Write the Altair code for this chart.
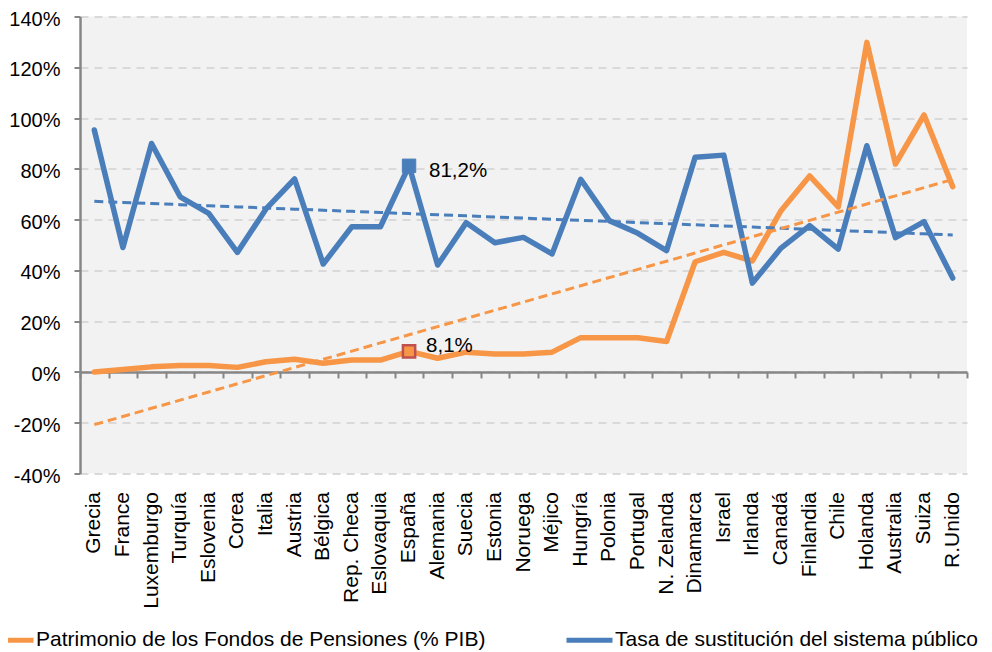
import altair as alt
import pandas as pd
import numpy as np

countries = ["Grecia", "France", "Luxemburgo", "Turquía", "Eslovenia", "Corea", "Italia",
             "Austria", "Bélgica", "Rep. Checa", "Eslovaquia", "España", "Alemania", "Suecia",
             "Estonia", "Noruega", "Méjico", "Hungría", "Polonia", "Portugal", "N. Zelanda",
             "Dinamarca", "Israel", "Irlanda", "Canadá", "Finlandia", "Chile", "Holanda",
             "Australia", "Suiza", "R.Unido"]

fondos = [0.0, 1.0, 2.0, 2.5, 2.5, 1.8, 4.0, 5.0, 3.4, 4.7, 4.7, 8.1, 5.4, 7.8, 7.1, 7.1,
          7.8, 13.5, 13.5, 13.5, 12.0, 43.4, 47.1, 43.7, 63.5, 77.2, 65.0, 129.8, 81.9,
          101.2, 73.0]

tasa = [95.3, 49.0, 90.0, 69.0, 62.5, 47.1, 64.2, 76.0, 42.5, 57.2, 57.2, 81.2, 42.1, 58.8,
        50.9, 53.0, 46.5, 75.9, 59.6, 54.6, 47.8, 84.6, 85.4, 35.0, 48.8, 57.6, 48.4, 89.1,
        52.9, 59.2, 37.0]

S1 = "Patrimonio de los Fondos de Pensiones (% PIB)"
S2 = "Tasa de sustitución del sistema público"
highlight = "España"

ORANGE = "#F79646"
BLUE = "#4A7EBB"
GRAY = "#868686"
FONT = "Liberation Sans"

W, H = 887, 457
YMIN, YMAX = -40, 140

idx = np.arange(len(countries))
trend_f = np.polyval(np.polyfit(idx, fondos, 1), idx)
trend_t = np.polyval(np.polyfit(idx, tasa, 1), idx)

df = pd.DataFrame(
    [{"country": c, "series": S1, "value": v} for c, v in zip(countries, fondos)]
    + [{"country": c, "series": S2, "value": v} for c, v in zip(countries, tasa)]
)
df_tf = pd.DataFrame({"country": countries, "value": trend_f})
df_tt = pd.DataFrame({"country": countries, "value": trend_t})

hi = countries.index(highlight)
df_mb = pd.DataFrame({"country": [highlight], "value": [tasa[hi]],
                      "label": [f"{tasa[hi]:.1f}".replace(".", ",") + "%"]})
df_mo = pd.DataFrame({"country": [highlight], "value": [fondos[hi]],
                      "label": [f"{fondos[hi]:.1f}".replace(".", ",") + "%"]})

xscale = alt.Scale(type="band", domain=countries, paddingInner=0, paddingOuter=0)
yscale = alt.Scale(domain=[YMIN, YMAX], nice=False, zero=False)

x_label_axis = alt.Axis(orient="bottom", labelAngle=270, labelFontSize=21, labelFont=FONT,
                        labelColor="black", domain=False, ticks=False, tickSize=0,
                        labelPadding=18, grid=False, title=None, labelLimit=300)
x_tick_axis = alt.Axis(orient="bottom", offset=-H * (0 - YMIN) / (YMAX - YMIN), labels=False,
                       domain=True, domainColor=GRAY, domainWidth=2.5, ticks=True,
                       tickBand="extent", tickSize=6, tickColor=GRAY, tickWidth=2,
                       grid=False, title=None)
y_axis = alt.Axis(values=list(range(YMIN, YMAX + 1, 20)), labelExpr="datum.value + '%'",
                  grid=True, gridDash=[8, 6], gridColor="#D9D9D9", gridWidth=2,
                  domainColor=GRAY, domainWidth=2.5, tickColor=GRAY, tickWidth=2,
                  tickSize=6, labelPadding=14, labelOffset=2.5, labelFontSize=20,
                  labelFont=FONT, labelColor="black", title=None)

Y = alt.Y("value:Q", scale=yscale)

lines = alt.Chart(df).mark_line(strokeJoin="round", strokeCap="round").encode(
    x=alt.X("country:N", sort=countries, scale=xscale, axis=x_label_axis),
    y=alt.Y("value:Q", scale=yscale, axis=y_axis),
    color=alt.Color("series:N", scale=alt.Scale(domain=[S1, S2], range=[ORANGE, BLUE]),
                    legend=alt.Legend(orient="none", legendX=-95, legendY=598,
                                      direction="horizontal", title=None,
                                      symbolType="stroke", symbolSize=2116,
                                      symbolStrokeWidth=5, labelFontSize=21,
                                      labelFont=FONT, labelColor="black", labelLimit=700,
                                      columnPadding=70, labelOffset=0, padding=0)),
    strokeWidth=alt.value(5.5),
    order=alt.Order("series:N"),
)

trend_t_layer = alt.Chart(df_tt).mark_line(strokeWidth=3, strokeDash=[9, 5], color=BLUE).encode(
    x=alt.X("country:N", sort=countries, scale=xscale, axis=None),
    y=Y,
)
trend_f_layer = alt.Chart(df_tf).mark_line(strokeWidth=3, strokeDash=[9, 5], color=ORANGE).encode(
    x=alt.X("country:N", sort=countries, scale=xscale, axis=x_tick_axis),
    y=Y,
)

mark_b = alt.Chart(df_mb).mark_square(size=180, fill=BLUE, stroke=BLUE, strokeWidth=1,
                                      opacity=1).encode(
    x=alt.X("country:N", sort=countries, scale=xscale, axis=None),
    y=Y,
)
mark_o = alt.Chart(df_mo).mark_square(size=150, fill=ORANGE, stroke="#C0504D", strokeWidth=2.5,
                                      opacity=1).encode(
    x=alt.X("country:N", sort=countries, scale=xscale, axis=None),
    y=Y,
)
text_b = alt.Chart(df_mb).mark_text(align="left", baseline="middle", dx=20, dy=5,
                                    fontSize=20.5, font=FONT, color="black").encode(
    x=alt.X("country:N", sort=countries, scale=xscale, axis=None),
    y=Y,
    text="label:N",
)
text_o = alt.Chart(df_mo).mark_text(align="left", baseline="middle", dx=17, dy=-5,
                                    fontSize=20.5, font=FONT, color="black").encode(
    x=alt.X("country:N", sort=countries, scale=xscale, axis=None),
    y=Y,
    text="label:N",
)

chart = alt.layer(lines, trend_t_layer, trend_f_layer, mark_b, mark_o, text_b, text_o).resolve_axis(
    x="independent"
).properties(
    width=W, height=H,
    autosize=alt.AutoSizeParams(type="none"),
    padding={"left": 72, "top": 8.5, "right": 16, "bottom": 178.5},
).configure_view(fill="#F2F2F2", stroke=None)

chart.save("out.html", embed_options={"renderer": "svg", "actions": False})
